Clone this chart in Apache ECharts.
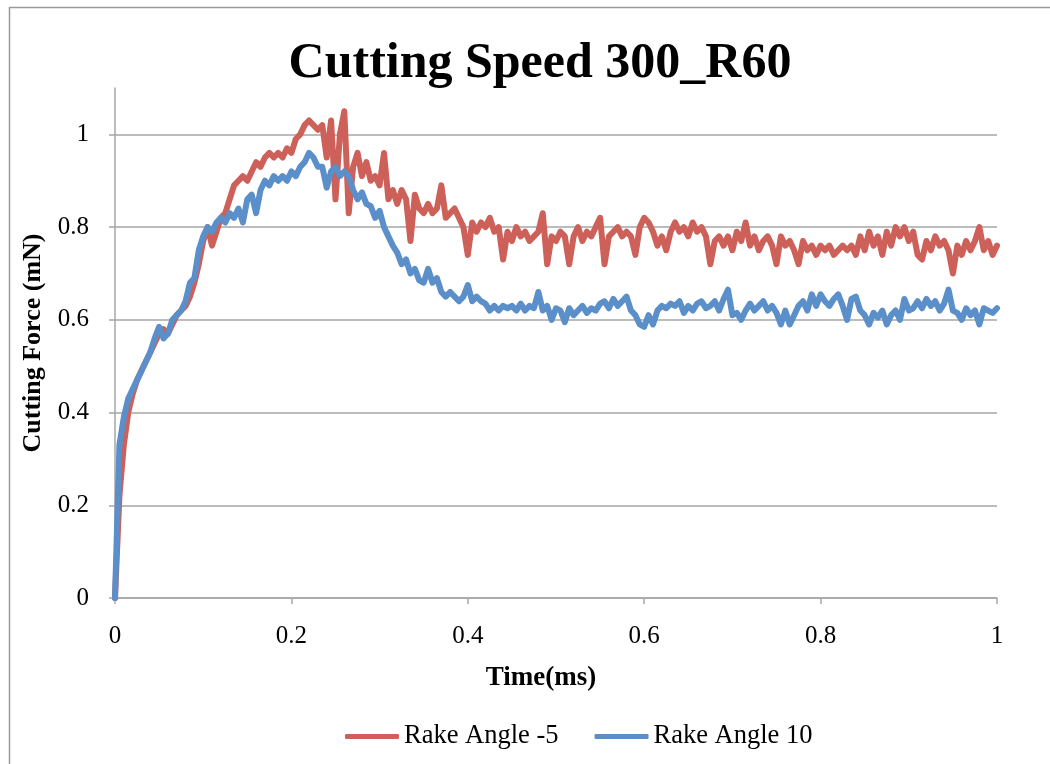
<!DOCTYPE html>
<html>
<head>
<meta charset="utf-8">
<title>Cutting Speed 300_R60</title>
<script src="https://cdn.jsdelivr.net/npm/echarts@6/dist/echarts.min.js"></script>
<style>
  html, body { margin: 0; padding: 0; background: #fff; }
  #chart { width: 1050px; height: 764px; }
</style>
</head>
<body>
<div id="chart"></div>
<script>
// Cutting force (mN) sampled every 0.005 ms from 0 to 1 ms
const SAMPLE_STEP_MS = 0.005;

const rakeAngleMinus5 = [
  0, 0.22, 0.33, 0.40, 0.44, 0.47, 0.49, 0.51, 0.53, 0.55,
  0.57, 0.58, 0.57, 0.59, 0.61, 0.62, 0.63, 0.65, 0.68, 0.72,
  0.77, 0.80, 0.76, 0.79, 0.82, 0.83, 0.86, 0.89, 0.90, 0.91,
  0.90, 0.92, 0.94, 0.93, 0.95, 0.96, 0.95, 0.96, 0.95, 0.97,
  0.96, 0.99, 1.00, 1.02, 1.03, 1.02, 1.01, 1.02, 0.95, 1.03,
  0.86, 1.00, 1.05, 0.83, 0.93, 0.96, 0.91, 0.94, 0.90, 0.91,
  0.89, 0.96, 0.86, 0.88, 0.85, 0.88, 0.86, 0.77, 0.87, 0.84,
  0.83, 0.85, 0.83, 0.84, 0.89, 0.82, 0.83, 0.84, 0.82, 0.80,
  0.74, 0.81, 0.79, 0.81, 0.80, 0.82, 0.79, 0.80, 0.73, 0.79,
  0.77, 0.80, 0.78, 0.79, 0.77, 0.78, 0.79, 0.83, 0.72, 0.78,
  0.77, 0.79, 0.78, 0.72, 0.78, 0.80, 0.77, 0.79, 0.78, 0.80,
  0.82, 0.72, 0.78, 0.79, 0.80, 0.78, 0.79, 0.78, 0.74, 0.80,
  0.82, 0.81, 0.79, 0.76, 0.78, 0.75, 0.79, 0.81, 0.79, 0.80,
  0.78, 0.81, 0.79, 0.80, 0.78, 0.72, 0.77, 0.78, 0.76, 0.78,
  0.75, 0.79, 0.77, 0.81, 0.76, 0.78, 0.75, 0.77, 0.78, 0.76,
  0.72, 0.78, 0.76, 0.77, 0.75, 0.72, 0.77, 0.75, 0.76, 0.74,
  0.76, 0.75, 0.76, 0.74, 0.75, 0.76, 0.75, 0.76, 0.74, 0.78,
  0.75, 0.79, 0.76, 0.78, 0.74, 0.79, 0.76, 0.80, 0.78, 0.80,
  0.77, 0.79, 0.74, 0.73, 0.77, 0.75, 0.78, 0.76, 0.77, 0.75,
  0.70, 0.76, 0.74, 0.77, 0.75, 0.77, 0.80, 0.75, 0.77, 0.74,
  0.76
];

const rakeAngle10 = [
  0, 0.33, 0.39, 0.43, 0.45, 0.47, 0.49, 0.51, 0.53, 0.56,
  0.585, 0.56, 0.57, 0.60, 0.61, 0.62, 0.64, 0.68, 0.69, 0.75,
  0.78, 0.80, 0.79, 0.81, 0.82, 0.81, 0.83, 0.82, 0.84, 0.81,
  0.86, 0.87, 0.83, 0.88, 0.90, 0.89, 0.91, 0.90, 0.91, 0.90,
  0.92, 0.91, 0.93, 0.94, 0.96, 0.95, 0.93, 0.93, 0.885, 0.92,
  0.93, 0.91, 0.92, 0.91, 0.88, 0.86, 0.875, 0.85, 0.845, 0.82,
  0.835, 0.80, 0.78, 0.76, 0.745, 0.72, 0.73, 0.70, 0.71, 0.685,
  0.68, 0.71, 0.68, 0.69, 0.66, 0.65, 0.66, 0.65, 0.64, 0.65,
  0.675, 0.64, 0.65, 0.64, 0.635, 0.62, 0.63, 0.62, 0.63, 0.625,
  0.63, 0.62, 0.635, 0.62, 0.63, 0.625, 0.66, 0.62, 0.63, 0.60,
  0.625, 0.62, 0.595, 0.625, 0.61, 0.62, 0.63, 0.615, 0.625, 0.62,
  0.635, 0.64, 0.625, 0.645, 0.63, 0.64, 0.65, 0.62, 0.61, 0.59,
  0.585, 0.61, 0.59, 0.62, 0.63, 0.625, 0.635, 0.63, 0.64, 0.615,
  0.63, 0.62, 0.635, 0.64, 0.625, 0.63, 0.64, 0.62, 0.645, 0.665,
  0.61, 0.615, 0.60, 0.62, 0.635, 0.62, 0.63, 0.64, 0.62, 0.63,
  0.615, 0.59, 0.62, 0.59, 0.61, 0.63, 0.64, 0.62, 0.655, 0.63,
  0.655, 0.64, 0.63, 0.645, 0.655, 0.63, 0.60, 0.645, 0.65, 0.62,
  0.61, 0.59, 0.615, 0.605, 0.62, 0.59, 0.61, 0.62, 0.60, 0.645,
  0.62, 0.625, 0.64, 0.625, 0.645, 0.63, 0.64, 0.62, 0.635, 0.665,
  0.62, 0.615, 0.60, 0.625, 0.61, 0.62, 0.59, 0.625, 0.62, 0.615,
  0.625
];

const seriesNames = ['Rake Angle -5', 'Rake Angle 10'];
const seriesColors = ['#CD6058', '#5A8FC9'];
const yTickValues = [0, 0.2, 0.4, 0.6, 0.8, 1];

const FONT = '"Liberation Serif", "Times New Roman", serif';
const GRID_GRAY = '#a6a6a6';

function pairs(values) {
  return values.map((v, i) => [+(i * SAMPLE_STEP_MS).toFixed(3), v]);
}

const chart = echarts.init(document.getElementById('chart'), null, { renderer: 'canvas' });

chart.setOption({
  animation: false,
  backgroundColor: '#ffffff',
  graphic: [{
    type: 'rect',
    left: 7, top: 5,
    shape: { width: 1100, height: 800 },
    style: { fill: 'none', stroke: '#9a9a9a', lineWidth: 1.5 },
    silent: true
  }],
  title: {
    text: 'Cutting Speed 300_R60',
    left: 535,
    top: 34,
    textAlign: 'center',
    textStyle: { fontFamily: FONT, fontWeight: 'bold', fontSize: 50, color: '#000' }
  },
  legend: {
    left: 340,
    top: 718,
    itemWidth: 54,
    itemHeight: 5,
    itemGap: 36,
    textStyle: { fontFamily: FONT, fontSize: 26.5, color: '#000' },
    data: seriesNames.map(n => ({ name: n, icon: 'roundRect' }))
  },
  grid: { left: 115, right: 53, top: 88, bottom: 166, containLabel: false },
  xAxis: {
    type: 'value',
    min: 0, max: 1, interval: 0.2,
    name: 'Time(ms)',
    nameLocation: 'middle',
    nameGap: 67,
    nameTextStyle: { fontFamily: FONT, fontWeight: 'bold', fontSize: 27, color: '#000', padding: [0, 30, 0, 0] },
    axisLine: { show: true, onZero: false, lineStyle: { color: GRID_GRAY, width: 1.5 } },
    axisTick: { show: true, length: 6, lineStyle: { color: GRID_GRAY, width: 1.5 } },
    axisLabel: { fontFamily: FONT, fontSize: 25, color: '#000', margin: 26 },
    splitLine: { show: false }
  },
  yAxis: {
    type: 'value',
    min: 0, max: 1.1, interval: 0.2,
    name: 'Cutting Force (mN)',
    nameLocation: 'middle',
    nameGap: 69,
    nameTextStyle: { fontFamily: FONT, fontWeight: 'bold', fontSize: 26, color: '#000' },
    axisLine: { show: true, lineStyle: { color: GRID_GRAY, width: 1.5 } },
    axisTick: { show: true, length: 6, customValues: yTickValues, lineStyle: { color: GRID_GRAY, width: 1.5 } },
    axisLabel: { fontFamily: FONT, fontSize: 25, color: '#000', margin: 26, customValues: yTickValues },
    splitLine: {
      show: true,
      lineStyle: { color: [GRID_GRAY, GRID_GRAY, GRID_GRAY, GRID_GRAY, GRID_GRAY, GRID_GRAY, 'rgba(0,0,0,0)'], width: 1.5 }
    }
  },
  series: [
    {
      name: seriesNames[0],
      type: 'line',
      data: pairs(rakeAngleMinus5),
      showSymbol: false,
      symbol: 'none',
      color: seriesColors[0],
      lineStyle: { color: seriesColors[0], width: 6, join: 'round', cap: 'round' },
      z: 2
    },
    {
      name: seriesNames[1],
      type: 'line',
      data: pairs(rakeAngle10),
      showSymbol: false,
      symbol: 'none',
      color: seriesColors[1],
      lineStyle: { color: seriesColors[1], width: 6, join: 'round', cap: 'round' },
      z: 3
    }
  ]
});
</script>
</body>
</html>
